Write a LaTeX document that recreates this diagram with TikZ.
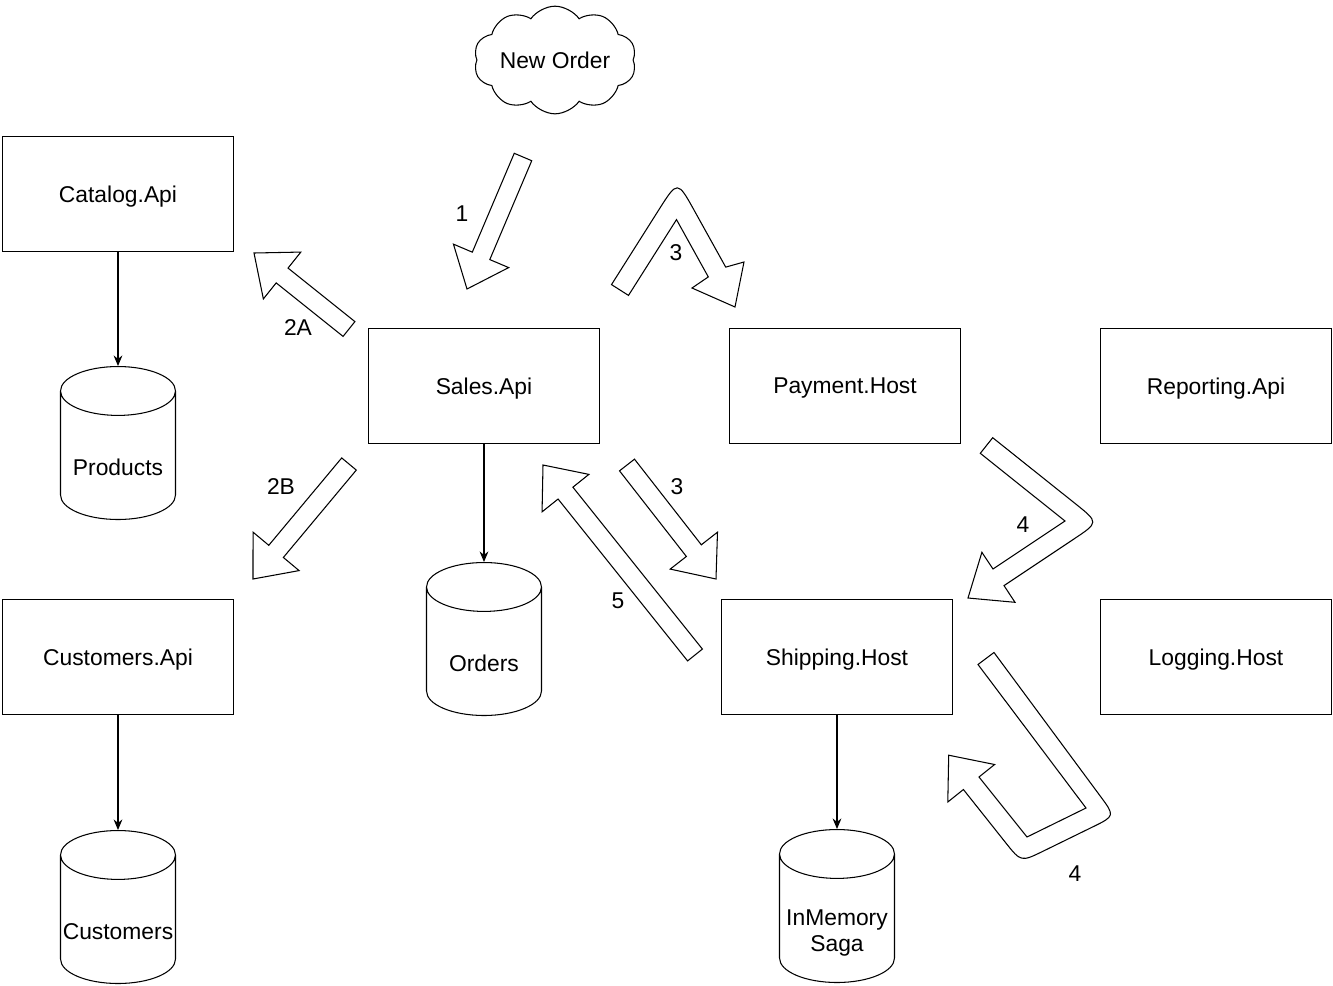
\documentclass[tikz,border=0pt]{standalone}
\usepackage{fontspec}
\setmainfont{Liberation Sans}
\usetikzlibrary{shapes.geometric,shapes.symbols,arrows.meta,positioning,calc}

% hollow straight block arrow: tail, tip
\newcommand{\fatarrow}[2]{%
  \draw[flow] ($(#1)!0.19cm!90:(#2)$)
    -- ($($(#2)!0.72cm!(#1)$)!0.19cm!-90:(#1)$)
    -- ($($(#2)!0.72cm!(#1)$)!0.6cm!-90:(#1)$)
    -- (#2)
    -- ($($(#2)!0.72cm!(#1)$)!0.6cm!90:(#1)$)
    -- ($($(#2)!0.72cm!(#1)$)!0.19cm!90:(#1)$)
    -- ($(#1)!0.19cm!-90:(#2)$) -- cycle;}

\begin{document}
\begin{tikzpicture}[x=0.02cm, y=-0.02cm,
        font=\fontsize{13}{15}\selectfont,
        service/.style={rectangle, draw, minimum width=4.62cm, minimum height=2.3cm, line width=0.6pt, text depth=0pt},
        store/.style={cylinder, shape border rotate=90, draw, shape aspect=0.48, minimum width=2.3cm, minimum height=3.06cm, line width=0.6pt},
        dbname/.style={anchor=center, yshift=1.05cm, align=center, text depth=0pt},
        link/.style={-{Stealth[length=6pt,width=5pt]}, line width=0.6pt},
        flow/.style={draw, fill=white, line width=0.6pt, line join=miter},
        num/.style={inner sep=1pt}]
    \useasboundingbox (0,0) rectangle (1333,985);

    % Event
    \node[cloud, draw, cloud puffs=10, cloud puff arc=110, aspect=1.8, minimum width=3.15cm, minimum height=1.75cm, inner sep=0pt, line width=0.6pt] (neworder) at (555,60) {New Order};

    % Services
    \node[service] (catalog) at (118,194) {Catalog.Api};
    \node[service] (sales) at (484,386) {Sales.Api};
    \node[service] (payment) at (845,386) {Payment.Host};
    \node[service] (reporting) at (1216,386) {Reporting.Api};
    \node[service] (custapi) at (118,657) {Customers.Api};
    \node[service] (shipping) at (837,657) {Shipping.Host};
    \node[service] (logging) at (1216,657) {Logging.Host};

    % Stores
    \node[store, below=2.28cm of catalog, label={[dbname]south:Products}] (products) {\hphantom{Products}};
    \node[store, below=2.36cm of sales, label={[dbname]south:Orders}] (orders) {\hphantom{Products}};
    \node[store, below=2.3cm of custapi, label={[dbname]south:Customers}] (customers) {\hphantom{Products}};
    \node[store, below=2.28cm of shipping, label={[dbname]south:InMemory\\Saga}] (saga) {\hphantom{Products}};

    % Connections
    \draw[link] (catalog) -- (products);
    \draw[link] (sales) -- (orders);
    \draw[link] (custapi) -- (customers);
    \draw[link] (shipping) -- (saga);

    % Message flow
    \fatarrow{523,157}{467,289}
    \fatarrow{349,329}{254,253}
    \fatarrow{349,464}{253,579}
    \fatarrow{627,465}{716,579}
    \fatarrow{695,655}{543,465}
    \draw[flow] (611.5,284.6) -- ($(677.5,180.3)!0.7cm!(611.5,284.6)$) .. controls (677.5,180.3) .. ($(677.5,180.3)!0.7cm!(725.7,267.1)$)
        -- (725.7,267.1) -- (744,262) -- (735,307) -- (692,288) -- (708.3,276.9) -- (676.5,219.6) -- (628.5,295.4) -- cycle;
    \draw[flow] (992.7,437.7) -- ($(1098.8,522.4)!0.6cm!(992.7,437.7)$) .. controls (1098.8,522.4) .. ($(1098.8,522.4)!0.6cm!(1004,585.6)$)
        -- (1004,585.6) -- (1015,602.3) -- (968,598) -- (981.9,552.3) -- (993,569) -- (1065,521) -- (980.3,453.3) -- cycle;
    \draw[flow] (994,652.5) -- ($(1115,816)!0.5cm!(994,652.5)$) .. controls (1115,816) .. ($(1115,816)!0.5cm!(1021,862)$)
        -- ($(1021,862)!0.5cm!(1115,816)$) .. controls (1021,862) .. ($(1021,862)!0.5cm!(963.4,789.5)$)
        -- (963.4,789.5) -- (947.8,802) -- (948.7,755.2) -- (994.6,764.5) -- (979,777) -- (1027,837) -- (1086,808) -- (978,664.5) -- cycle;

    % Step numbers
    \node[num] (n1) at (462,214) {1};
    \node[num] (n2a) at (298,328) {2A};
    \node[num] (n2b) at (281,487) {2B};
    \node[num] (n3a) at (676,253) {3};
    \node[num] (n3b) at (677,487) {3};
    \node[num] (n5) at (618,601) {5};
    \node[num] (n4a) at (1023,525) {4};
    \node[num] (n4b) at (1075,874) {4};
\end{tikzpicture}
\end{document}
